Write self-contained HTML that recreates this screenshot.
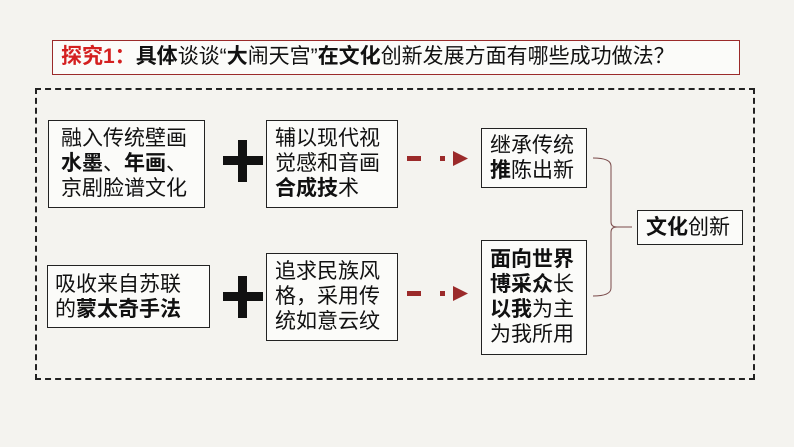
<!DOCTYPE html>
<html><head><meta charset="utf-8"><style>
body{margin:0;width:794px;height:447px;background:#f4f3ef;position:relative;overflow:hidden;font-family:"Liberation Sans","Noto Sans CJK SC",sans-serif;color:#111}
.b{position:absolute;border:1.5px solid #222;background:#fbfbf9;box-sizing:border-box;font-size:21px;line-height:25px}
b{font-weight:bold}
</style></head><body>
<div style="position:absolute;left:52px;top:40px;width:688px;height:35px;border:1.5px solid #9b2a2a;box-sizing:border-box;background:#fbfbf9;font-size:21px;line-height:32px;padding-left:8px;white-space:nowrap"><b style="color:#d42020">探究1：</b><b>具体</b>谈谈“<b>大</b>闹天宫”<b>在文化</b>创新发展方面有哪些成功做法？</div>
<div style="position:absolute;left:35px;top:88px;width:720px;height:292px;border:2px dashed #222;box-sizing:border-box"></div>
<div class="b" style="left:48px;top:120px;width:157px;height:88px;padding:5px 0 0 12px">融入传统壁画<br><b>水墨</b>、<b>年画</b>、<br>京剧脸谱文化</div>
<div class="b" style="left:266px;top:120px;width:132px;height:88px;padding:5px 0 0 8px">辅以现代视<br>觉感和音画<br><b>合成技</b>术</div>
<div class="b" style="left:47px;top:265px;width:163px;height:63px;padding:6px 0 0 7px">吸收来自苏联<br>的<b>蒙太奇手法</b></div>
<div class="b" style="left:266px;top:253px;width:132px;height:88px;padding:5px 0 0 8px">追求民族风<br>格，采用传<br>统如意云纹</div>
<div class="b" style="left:481px;top:128px;width:106px;height:60px;padding:4px 0 0 8px">继承传统<br><b>推</b>陈出新</div>
<div class="b" style="left:481px;top:240px;width:106px;height:115px;padding:6px 0 0 8px"><b>面向世界<br>博采众</b>长<br><b>以我</b>为主<br>为我所用</div>
<div class="b" style="left:637px;top:210px;width:106px;height:35px;padding:4px 0 0 8px"><b>文化</b>创新</div>
<svg style="position:absolute;left:0;top:0" width="794" height="447">
<g fill="#111"><rect x="223" y="156" width="40" height="9"/><rect x="238" y="140" width="9" height="42"/>
<rect x="223" y="292" width="40" height="9"/><rect x="238" y="276" width="9" height="42"/></g>
<g fill="#9b2a2a"><rect x="407" y="156" width="14" height="5"/><rect x="440" y="156" width="5" height="5"/><polygon points="453,151 468,158.5 453,166"/>
<rect x="407" y="291" width="14" height="5"/><rect x="440" y="291" width="5" height="5"/><polygon points="453,286 468,293.5 453,301"/></g>
<path d="M593 158 Q611 158 611 166 L611 222 Q611 227 617 227 L632 227 M617 227 Q611 227 611 232 L611 288 Q611 296 593 296" fill="none" stroke="#7a4a4a" stroke-width="1"/>
</svg>
</body></html>
